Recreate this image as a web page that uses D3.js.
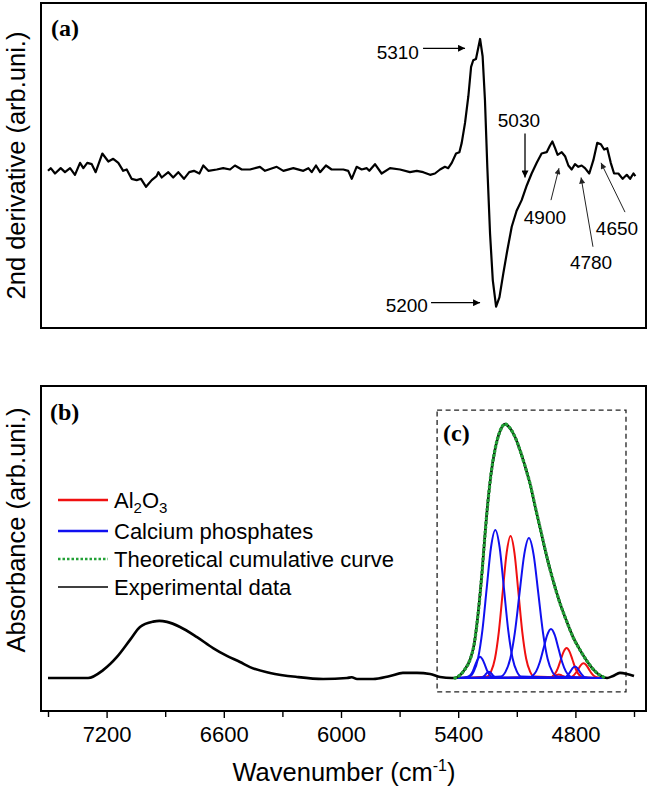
<!DOCTYPE html>
<html><head><meta charset="utf-8">
<script src="https://cdn.jsdelivr.net/npm/d3@7/dist/d3.min.js"></script>
<style>html,body{margin:0;padding:0;background:#fff;}svg{display:block;}</style>
</head><body>
<script>
// ---------- DATA ----------
// Panel (a): 2nd derivative spectrum [wavenumber, value]
const derivData = [[7500,0.01],[7486,0.03],[7464,-0.01],[7435,0.03],[7413,0.00],[7387,0.03],[7362,-0.02],[7336,0.07],[7319,0.03],[7299,0.07],[7276,0.06],[7256,0.00],[7222,0.14],[7191,0.08],[7166,0.10],[7140,0.07],[7115,0.01],[7097,0.02],[7072,-0.05],[7046,-0.06],[7024,-0.05],[6998,-0.11],[6969,-0.06],[6944,-0.03],[6935,0.00],[6918,-0.04],[6884,0.00],[6859,-0.04],[6833,0.00],[6804,-0.05],[6777,0.00],[6753,0.01],[6725,-0.01],[6705,0.05],[6679,0.01],[6636,0.02],[6603,0.03],[6568,0.02],[6543,0.05],[6508,0.02],[6466,0.02],[6415,0.04],[6389,0.01],[6329,0.04],[6295,0.01],[6244,0.03],[6193,0.01],[6167,0.03],[6150,0.00],[6128,0.05],[6107,0.00],[6077,0.05],[6048,0.02],[5988,0.02],[5963,0.01],[5945,-0.05],[5920,0.04],[5894,0.02],[5868,0.03],[5855,0.01],[5826,0.06],[5792,-0.01],[5749,0.03],[5698,0.02],[5647,0.00],[5612,0.01],[5579,0.00],[5544,-0.02],[5519,-0.01],[5493,0.02],[5468,0.04],[5451,0.03],[5433,0.07],[5411,0.14],[5394,0.15],[5382,0.22],[5365,0.37],[5348,0.57],[5334,0.79],[5323,0.84],[5309,0.85],[5288,1.00],[5275,0.87],[5263,0.54],[5251,0.04],[5237,-0.46],[5223,-0.81],[5206,-1.01],[5189,-0.94],[5169,-0.76],[5149,-0.59],[5126,-0.41],[5101,-0.29],[5075,-0.21],[5049,-0.10],[5024,-0.01],[4998,0.07],[4973,0.14],[4947,0.15],[4930,0.20],[4918,0.23],[4904,0.18],[4891,0.13],[4870,0.15],[4853,0.12],[4836,0.05],[4819,0.02],[4802,0.06],[4785,0.04],[4768,0.05],[4751,0.03],[4729,-0.01],[4708,0.09],[4688,0.22],[4670,0.21],[4653,0.17],[4637,0.18],[4619,0.07],[4602,-0.01],[4580,-0.01],[4558,-0.05],[4537,-0.02],[4520,-0.05],[4503,-0.01],[4493,-0.03]];

// Panel (a) annotations
const annoLabels = ["5310","5200","5030","4900","4780","4650"];
const annoTextW  = [5601, 5555, 5089, 4956, 4720, 4587];
const annoTextV  = [0.90, -1.00, 0.39, -0.34, -0.68, -0.42];
const annoAnchor = ["end","end","middle","middle","middle","middle"];
const arrowFromW = [5580, 5539, 5058, 4925, 4710, 4546];
const arrowFromV = [0.93, -0.98, 0.29, -0.21, -0.56, -0.30];
const arrowToW   = [5365, 5288, 5058, 4884, 4771, 4669];
const arrowToV   = [0.93, -0.98, -0.04, 0.03, -0.04, 0.07];

// Panel (b): experimental absorbance [wavenumber, absorbance]
const expData = [[7500,0],[7295,0],[7218,0.031],[7147,0.083],[7080,0.150],[7029,0.201],[6962,0.222],[6930,0.225],[6891,0.221],[6824,0.201],[6737,0.161],[6655,0.118],[6584,0.087],[6517,0.063],[6466,0.043],[6363,0.020],[6225,0.004],[6092,-0.004],[5969,0.000],[5945,0.003],[5918,-0.004],[5836,-0.004],[5749,0.008],[5683,0.020],[5611,0.020],[5544,0.016],[5493,0.004],[5432,0.000],[5416,0],[5390,0.012],[5365,0.035],[5340,0.071],[5319,0.130],[5299,0.248],[5278,0.417],[5263,0.563],[5247,0.701],[5232,0.803],[5212,0.898],[5186,0.972],[5160,1.000],[5135,0.984],[5109,0.949],[5084,0.898],[5058,0.835],[5032,0.764],[5002,0.661],[4976,0.575],[4951,0.492],[4915,0.386],[4879,0.295],[4843,0.220],[4812,0.161],[4776,0.110],[4741,0.067],[4705,0.031],[4669,0.008],[4638,0],[4607,0.008],[4572,0.020],[4536,0.016],[4500,0.008]];

// Theoretical cumulative curve
const cumData = [[5416,0],[5390,0.012],[5365,0.035],[5340,0.071],[5319,0.130],[5299,0.248],[5278,0.417],[5263,0.563],[5247,0.701],[5232,0.803],[5212,0.898],[5186,0.972],[5160,1.000],[5135,0.984],[5109,0.949],[5084,0.898],[5058,0.835],[5032,0.764],[5002,0.661],[4976,0.575],[4951,0.492],[4915,0.386],[4879,0.295],[4843,0.220],[4812,0.161],[4776,0.110],[4741,0.067],[4705,0.031],[4669,0.008],[4638,0]];

// Al2O3 component bands
const al2o3Bands = [
  [[5416,0],[5252,0.006],[5232,0.025],[5212,0.076],[5192,0.182],[5172,0.339],[5152,0.493],[5132,0.559],[5112,0.493],[5092,0.339],[5072,0.182],[5052,0.076],[5032,0.025],[5012,0.006],[4638,0]],
  [[5416,0],[4935,0.001],[4920,0.005],[4905,0.016],[4890,0.038],[4875,0.072],[4860,0.104],[4845,0.118],[4830,0.104],[4815,0.072],[4800,0.038],[4785,0.016],[4770,0.005],[4755,0.001],[4638,0]],
  [[5416,0],[4839,0.001],[4826,0.003],[4812,0.008],[4799,0.019],[4785,0.035],[4772,0.051],[4758,0.058],[4745,0.051],[4731,0.035],[4718,0.019],[4704,0.008],[4691,0.003],[4677,0.001],[4638,0]],
  [[5416,0],[4935,0.001],[4925,0.002],[4915,0.005],[4905,0.008],[4895,0.012],[4885,0.014],[4875,0.012],[4865,0.008],[4855,0.005],[4845,0.002],[4835,0.001],[4638,0]]
];
// Calcium phosphate component bands
const caPBands = [
  [[5416,0],[5342,0.006],[5320,0.026],[5298,0.079],[5276,0.189],[5254,0.354],[5232,0.515],[5210,0.583],[5188,0.515],[5166,0.354],[5144,0.189],[5122,0.079],[5100,0.026],[5078,0.006],[4638,0]],
  [[5416,0],[5182,0.006],[5158,0.024],[5134,0.075],[5110,0.179],[5086,0.334],[5062,0.486],[5038,0.551],[5014,0.486],[4990,0.334],[4966,0.179],[4942,0.075],[4918,0.024],[4894,0.006],[4638,0]],
  [[5416,0],[5039,0.002],[5020,0.008],[5001,0.026],[4982,0.063],[4963,0.117],[4944,0.170],[4925,0.193],[4906,0.170],[4887,0.117],[4868,0.063],[4849,0.026],[4830,0.008],[4811,0.002],[4638,0]],
  [[5416,0],[4868,0.000],[4857,0.002],[4846,0.006],[4835,0.015],[4824,0.027],[4813,0.040],[4802,0.045],[4791,0.040],[4780,0.027],[4769,0.015],[4758,0.006],[4747,0.002],[4736,0.000],[4638,0]],
  [[5416,0],[5363,0.001],[5350,0.004],[5338,0.011],[5325,0.027],[5313,0.051],[5300,0.074],[5288,0.084],[5276,0.074],[5263,0.051],[5251,0.027],[5238,0.011],[5226,0.004],[5213,0.001],[4638,0]],
  [[5416,0],[5283,0.001],[5275,0.003],[5267,0.008],[5259,0.015],[5251,0.022],[5243,0.025],[5235,0.022],[5227,0.015],[5219,0.008],[5211,0.003],[5203,0.001],[4638,0]]
];

// Axis ticks
const xTickValues = [7500,7200,6900,6600,6300,6000,5700,5400,5100,4800,4500];
const xTickLabels = [7200,6600,6000,5400,4800];
// zoomed-region box (c) in data units
const boxW = [5508, 4541];
const boxA = [-0.055, 1.055];

const legendLabels = ["Al2O3","Calcium phosphates","Theoretical cumulative curve","Experimental data"];

// ---------- DRAW ----------
const W = 649, H = 788;
const SANS = "'Liberation Sans', Arial, Helvetica, sans-serif";
const SERIF = "'Liberation Serif', 'Times New Roman', serif";
const RED = "#f01010", BLUE = "#1010f0", GREEN = "#22a036";

const svg = d3.select("body").append("svg").attr("width", W).attr("height", H);

const frameL = 41, frameR = 646;
const aTop = 3, aBot = 328, bTop = 386, bBot = 711;

const x = d3.scaleLinear().domain([7500, 4500]).range([48, 634]);
const yA = d3.scaleLinear().domain([-1.17, 1.27]).range([aBot, aTop]);
const yB = d3.scaleLinear().domain([-0.13, 1.15]).range([bBot, bTop]);

const defs = svg.append("defs");
function marker(id, color, w, h) {
  defs.append("marker").attr("id", id).attr("viewBox", "0 0 10 10")
    .attr("refX", 10).attr("refY", 5).attr("markerUnits", "userSpaceOnUse")
    .attr("markerWidth", w).attr("markerHeight", h).attr("orient", "auto")
    .append("path").attr("d", "M0,0 L10,5 L0,10 Z").attr("fill", color);
}
marker("arrBlack", "#000", 11, 7);
marker("arrGray", "#222", 9, 6);

// ----- Panel (a) -----
const gA = svg.append("g");
gA.append("rect").attr("x", frameL).attr("y", aTop).attr("width", frameR - frameL).attr("height", aBot - aTop)
  .attr("fill", "none").attr("stroke", "#000").attr("stroke-width", 2);

const lineA = d3.line().x(d => x(d[0])).y(d => yA(d[1])).curve(d3.curveLinear);
gA.append("path").datum(derivData).attr("d", lineA).attr("fill", "none")
  .attr("stroke", "#000").attr("stroke-width", 2.2).attr("stroke-linejoin", "round");

annoLabels.forEach((lab, i) => {
  gA.append("line")
    .attr("x1", x(arrowFromW[i])).attr("y1", yA(arrowFromV[i]))
    .attr("x2", x(arrowToW[i])).attr("y2", yA(arrowToV[i]))
    .attr("stroke", i < 3 ? "#000" : "#222").attr("stroke-width", i < 3 ? 1.3 : 1)
    .attr("marker-end", i < 3 ? "url(#arrBlack)" : "url(#arrGray)");
  gA.append("text").attr("x", x(annoTextW[i])).attr("y", yA(annoTextV[i]))
    .attr("dy", "0.35em").attr("text-anchor", annoAnchor[i])
    .attr("font-family", SANS).attr("font-size", 19).text(lab);
});

gA.append("text").attr("x", 51).attr("y", 36).attr("font-family", SERIF)
  .attr("font-weight", "bold").attr("font-size", 24).text("(a)");

svg.append("text").attr("transform", `translate(25,${(aTop + aBot) / 2}) rotate(-90)`)
  .attr("text-anchor", "middle").attr("font-family", SANS).attr("font-size", 25.5)
  .text("2nd derivative (arb.uni.)");

// ----- Panel (b) -----
const gB = svg.append("g");
const lineB = d3.line().x(d => x(d[0])).y(d => yB(d[1])).curve(d3.curveMonotoneX);

// dashed box (c)
gB.append("rect").attr("x", x(boxW[0])).attr("y", yB(boxA[1]))
  .attr("width", x(boxW[1]) - x(boxW[0])).attr("height", yB(boxA[0]) - yB(boxA[1]))
  .attr("fill", "none").attr("stroke", "#222").attr("stroke-width", 1.3).attr("stroke-dasharray", "5,3.5");

al2o3Bands.forEach(b => gB.append("path").datum(b).attr("d", lineB).attr("fill", "none")
  .attr("stroke", RED).attr("stroke-width", 2));
caPBands.forEach(b => gB.append("path").datum(b).attr("d", lineB).attr("fill", "none")
  .attr("stroke", BLUE).attr("stroke-width", 2));

gB.append("path").datum(expData).attr("d", lineB).attr("fill", "none")
  .attr("stroke", "#000").attr("stroke-width", 2.6);
gB.append("path").datum(cumData).attr("d", lineB).attr("fill", "none")
  .attr("stroke", GREEN).attr("stroke-width", 3.4).attr("stroke-linecap", "round")
  .attr("stroke-dasharray", "0.5,4");

gB.append("rect").attr("x", frameL).attr("y", bTop).attr("width", frameR - frameL).attr("height", bBot - bTop)
  .attr("fill", "none").attr("stroke", "#000").attr("stroke-width", 2);

// x axis
const xAxis = d3.axisBottom(x).tickValues(xTickValues)
  .tickFormat(d => xTickLabels.includes(d) ? String(d) : "")
  .tickSizeOuter(0).tickSizeInner(7).tickPadding(8);
const gx = gB.append("g").attr("transform", `translate(0,${bBot})`).call(xAxis);
gx.select(".domain").remove();
gx.selectAll(".tick line").attr("stroke", "#000").attr("stroke-width", 1.4)
  .attr("y2", d => xTickLabels.includes(d) ? 7 : 6);
gx.selectAll(".tick text").attr("font-family", SANS).attr("font-size", 22).attr("fill", "#000");

svg.append("text").attr("x", 344).attr("y", 781).attr("text-anchor", "middle")
  .attr("font-family", SANS).attr("font-size", 25.5)
  .call(t => {
    t.append("tspan").text("Wavenumber (cm");
    t.append("tspan").attr("dy", -10).attr("font-size", 16).text("-1");
    t.append("tspan").attr("dy", 10).text(")");
  });

svg.append("text").attr("transform", `translate(25,530) rotate(-90)`)
  .attr("text-anchor", "middle").attr("font-family", SANS).attr("font-size", 25.5)
  .text("Absorbance (arb.uni.)");

gB.append("text").attr("x", 50).attr("y", 420).attr("font-family", SERIF)
  .attr("font-weight", "bold").attr("font-size", 24).text("(b)");
gB.append("text").attr("x", 443).attr("y", 441).attr("font-family", SERIF)
  .attr("font-weight", "bold").attr("font-size", 24).text("(c)");

// legend
const legY = [500, 531, 559, 587];
const legStyles = [
  {c: RED, w: 2.4, dash: null},
  {c: BLUE, w: 2.4, dash: null},
  {c: GREEN, w: 2.6, dash: "2.5,2"},
  {c: "#000", w: 1.6, dash: null}
];
const gL = svg.append("g");
legendLabels.forEach((lab, i) => {
  gL.append("line").attr("x1", 58).attr("x2", 108).attr("y1", legY[i]).attr("y2", legY[i])
    .attr("stroke", legStyles[i].c).attr("stroke-width", legStyles[i].w)
    .attr("stroke-dasharray", legStyles[i].dash);
  const t = gL.append("text").attr("x", 114).attr("y", legY[i]).attr("dy", "0.35em")
    .attr("font-family", SANS).attr("font-size", 22);
  if (lab === "Al2O3") {
    t.append("tspan").text("Al");
    t.append("tspan").attr("dy", 5).attr("font-size", 15).text("2");
    t.append("tspan").attr("dy", -5).text("O");
    t.append("tspan").attr("dy", 5).attr("font-size", 15).text("3");
  } else {
    t.text(lab);
  }
});
</script>
</body></html>
